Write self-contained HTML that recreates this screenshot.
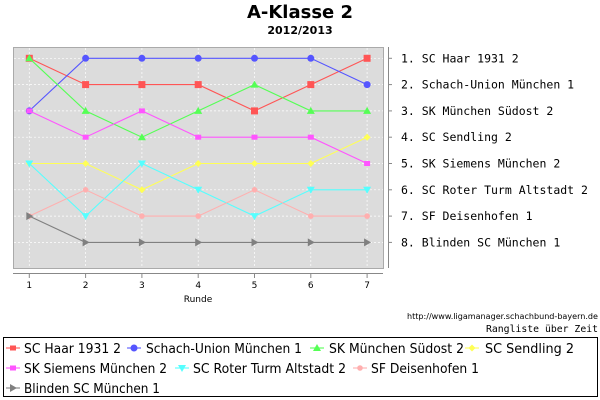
<!DOCTYPE html>
<html><head><meta charset="utf-8"><style>body{margin:0;background:#fff}svg{display:block}</style></head>
<body>
<svg id="s" width="600" height="400" xmlns="http://www.w3.org/2000/svg" font-family="DejaVu Sans, sans-serif">
<rect width="600" height="400" fill="#fff"/>
<text x="300" y="18" text-anchor="middle" font-size="18" font-weight="bold">A-Klasse 2</text>
<text x="300" y="34" text-anchor="middle" font-size="11" font-weight="bold">2012/2013</text>
<rect x="13.5" y="47.5" width="370" height="221" fill="#dcdcdc" stroke="#aaa"/>
<g id="grid" stroke="#fff" stroke-dasharray="2,2" stroke-width="0.7"></g>
<line x1="13" y1="273.5" x2="383" y2="273.5" stroke="#888"/>
<line x1="388.5" y1="47" x2="388.5" y2="268" stroke="#888"/>
<g id="ticks" stroke="#888"></g>
<g id="xl" font-size="9" text-anchor="middle"></g>
<text x="198" y="302" font-size="9" text-anchor="middle">Runde</text>
<g id="rl" font-family="DejaVu Sans Mono, monospace" font-size="11.5"></g>
<g id="ser"></g>
<text x="407" y="319" font-size="7.5" textLength="191" lengthAdjust="spacingAndGlyphs">http://www.ligamanager.schachbund-bayern.de</text>
<text x="486" y="332" font-size="9.5" font-family="DejaVu Sans Mono, monospace" textLength="112" lengthAdjust="spacingAndGlyphs">Rangliste über Zeit</text>
<rect x="3.5" y="337.5" width="594" height="59" fill="none" stroke="#000"/>
<g id="leg" font-size="13"></g>
</svg>
<script>
const NS="http://www.w3.org/2000/svg";
function el(p,t,a,txt){const e=document.createElementNS(NS,t);for(const k in a)e.setAttribute(k,a[k]);if(txt)e.textContent=txt;document.getElementById(p).appendChild(e);return e;}
const X=r=>29.3+(r-1)*56.3, Y=k=>58.3+(k-1)*26.3;
for(let i=1;i<=7;i++){el('grid','line',{x1:X(i),y1:48,x2:X(i),y2:268});el('ticks','line',{x1:X(i),y1:274,x2:X(i),y2:278});el('xl','text',{x:X(i),y:288},String(i));}
for(let k=1;k<=8;k++){el('grid','line',{x1:14,y1:Y(k),x2:383,y2:Y(k)});el('ticks','line',{x1:388,y1:Y(k),x2:392,y2:Y(k)});}
const S=[
["SC Haar 1931 2","#ff5555","sq",[1,2,2,2,3,2,1]],
["Schach-Union München 1","#5555ff","ci",[3,1,1,1,1,1,2]],
["SK München Südost 2","#55ff55","tu",[1,3,4,3,2,3,3]],
["SC Sendling 2","#ffff55","di",[5,5,6,5,5,5,4]],
["SK Siemens München 2","#ff55ff","ss",[3,4,3,4,4,4,5]],
["SC Roter Turm Altstadt 2","#55ffff","td",[5,7,5,6,7,6,6]],
["SF Deisenhofen 1","#ffafaf","sc",[7,6,7,7,6,7,7]],
["Blinden SC München 1","#808080","tr",[7,8,8,8,8,8,8]]];
function mk(g,t,x,y,c){
 if(t=="sq")el(g,'rect',{x:x-3.5,y:y-3.5,width:7,height:7,fill:c});
 if(t=="ss")el(g,'rect',{x:x-3,y:y-2.5,width:6,height:5,fill:c});
 if(t=="ci")el(g,'circle',{cx:x,cy:y,r:3.5,fill:c});
 if(t=="sc")el(g,'circle',{cx:x,cy:y,r:2.8,fill:c});
 if(t=="tu")el(g,'polygon',{points:`${x},${y-4} ${x+4},${y+3} ${x-4},${y+3}`,fill:c});
 if(t=="td")el(g,'polygon',{points:`${x},${y+4} ${x+4},${y-3} ${x-4},${y-3}`,fill:c});
 if(t=="tr")el(g,'polygon',{points:`${x+4},${y} ${x-3},${y-4} ${x-3},${y+4}`,fill:c});
 if(t=="di")el(g,'polygon',{points:`${x},${y-3.5} ${x+3.5},${y} ${x},${y+3.5} ${x-3.5},${y}`,fill:c});
}
S.forEach((s,i)=>{
 el('ser','polyline',{points:s[3].map((k,j)=>X(j+1)+','+Y(k)).join(' '),fill:'none',stroke:s[1],'stroke-width':1.1});
 s[3].forEach((k,j)=>mk('ser',s[2],X(j+1),Y(k),s[1]));
 el('rl','text',{x:401,y:Y(i+1)+4},(i+1)+". "+s[0]);
});
const L=[[6,348,24,97],[127,348,146,156],[310,348,329,135],[465,348,485,89],[6,368,24,143],[175,368,193,153],[353,368,371,108],[6,388,24,136]];
S.forEach((s,i)=>{const [x,y,tx,tw]=L[i];
 el('leg','line',{x1:x,y1:y,x2:x+14,y2:y,stroke:s[1],'stroke-width':1.1});
 const sc=s[2]=="sq"?"ss":s[2];
 mk('leg',sc,x+7,y,s[1]);
 el('leg','text',{x:tx,y:y+5,textLength:tw,lengthAdjust:'spacingAndGlyphs'},s[0]);
});
</script>
</body></html>
